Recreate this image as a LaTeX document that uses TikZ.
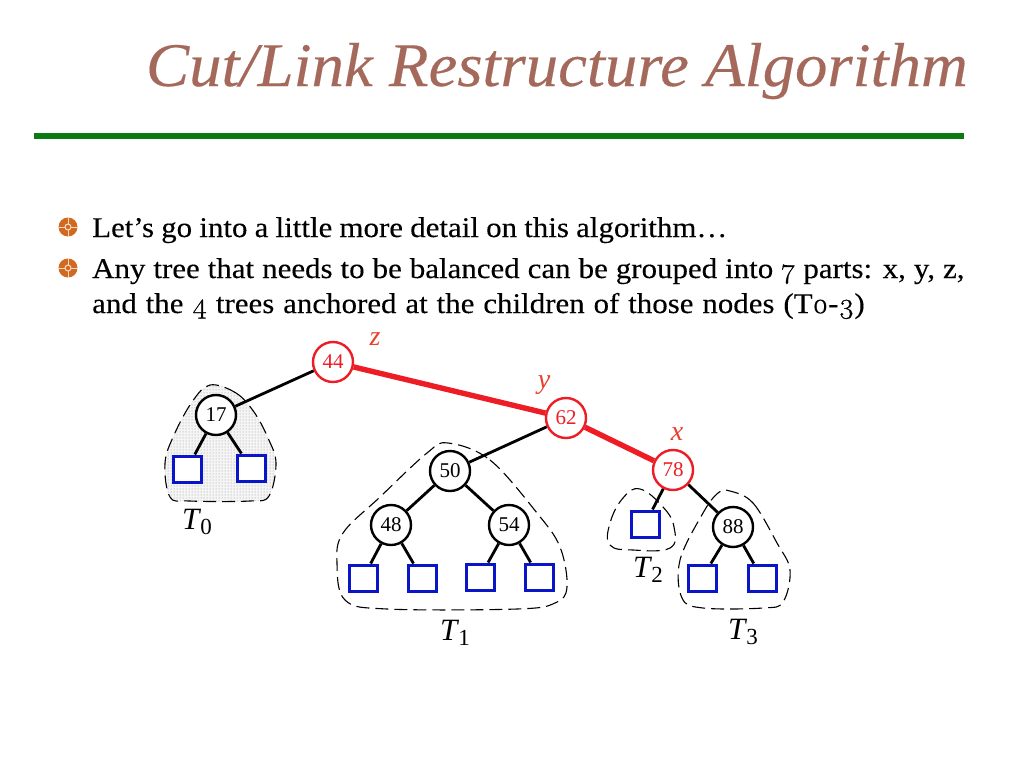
\documentclass[tikz,border=0pt]{standalone}
\usepackage{fontspec}
\usetikzlibrary{patterns}
\setmainfont{Liberation Serif}
\newfontfamily\bodyf{Liberation Serif}[FakeStretch=1.085,FakeBold=0.25]
\newfontfamily\titlef{Liberation Serif}[FakeStretch=1.045,FakeBold=0.25]
\newfontfamily\osf{Latin Modern Roman}[Numbers=OldStyle,FakeStretch=1.05,FakeBold=0.7]
\definecolor{titlec}{HTML}{A5695C}
\definecolor{rulec}{HTML}{0B7A12}
\definecolor{redn}{HTML}{EE1C25}
\definecolor{labc}{HTML}{E8402A}
\definecolor{bluen}{HTML}{0A14C8}
\definecolor{bulc}{HTML}{D2691E}
\tikzset{
  x=1pt,y=-1pt,
  bt/.style={circle,draw=black,line width=2.4pt,fill=white,minimum size=40pt,inner sep=0pt,font=\fontsize{21}{21}\selectfont},
  rt/.style={bt,draw=redn,text=redn},
  leaf/.style={rectangle,draw=bluen,line width=3pt,fill=white,minimum width=28pt,minimum height=26pt,inner sep=0pt},
  edgeb/.style={draw=black,line width=2.8pt},
  edger/.style={draw=redn,line width=5.4pt},
  blob/.style={draw=black,dash pattern=on 13pt off 6pt,line width=1.1pt},
  tl/.style={font=\fontsize{31}{31}\selectfont\itshape,inner sep=0pt},
  xl/.style={font=\fontsize{28}{28}\selectfont\itshape,text=labc,inner sep=0pt},
  bodyt/.style={anchor=base west,inner sep=0pt,font=\fontsize{28.5}{28.5}\selectfont\bodyf},
}
\newcommand{\onum}[1]{{\osf #1}}
\newcommand{\subd}[1]{\hspace{1pt}\raisebox{-5pt}{\fontsize{23}{23}\selectfont\upshape #1}}
\begin{document}
\begin{tikzpicture}
\useasboundingbox (0,0) rectangle (1024,768);
\fill[white] (0,0) rectangle (1024,768);
\node[anchor=base east,inner sep=0pt,text=titlec,font=\fontsize{62}{62}\selectfont\titlef\itshape] (title) at (968,86) {Cut/Link Restructure Algorithm};
\coordinate (ruleL) at (34,136);
\coordinate (ruleR) at (964,136);
\draw[rulec,line width=6pt] (ruleL) -- (ruleR);
% bullets
\foreach \y in {227,268}{
  \fill[bulc] (68,\y) circle (9.5);
  \draw[white!75!bulc,line width=0.9pt] (58.5,\y) -- (65,\y) (71,\y) -- (77.5,\y) (68,\y-9.5) -- (68,\y-3) (68,\y+3) -- (68,\y+9.5);
  \draw[white!80!bulc,line width=1pt] (68,\y) circle (3);
}
\node[bodyt] (l1) at (92,237) {\spaceskip=7.2pt Let’s go into a little more detail on this algorithm…};
\node[bodyt] (l2) at (92,278) {\spaceskip=8pt Any tree that needs to be balanced can be grouped into \onum{7} parts: x, y, z,};
\node[bodyt] (l3) at (92,313) {\spaceskip=8.9pt and the \onum{4} trees anchored at the children of those nodes (T\onum{0}-\onum{3})};
% blobs
\path[blob,preaction={fill=gray!8},pattern=dots,pattern color=gray!85] plot[smooth cycle,tension=0.6] coordinates {(210,385) (236,393) (254,412) (268,438) (276,463) (269,496) (250,501) (190,501) (170,497) (165,463) (174,435) (192,402)};
\draw[blob] plot[smooth cycle,tension=0.6] coordinates {(448,443) (490,460) (537,513) (560,547) (567,587) (555,603) (517,609) (387,609) (345,600) (337,563) (343,533) (380,497) (427,453)};
\draw[blob] plot[smooth cycle,tension=0.7] coordinates {(640,489) (663,507) (674,527) (670,548) (633,550) (610,545) (610,523) (623,498)};
\draw[blob] plot[smooth cycle,tension=0.6] coordinates {(730,491) (753,503) (777,543) (790,570) (783,602) (763,608) (703,608) (682,598) (680,560) (703,513) (718,493)};
% nodes
\node[rt] (n44) at (333,362) {44};
\node[bt] (n17) at (216,415) {17};
\node[rt] (n62) at (566,418) {62};
\node[rt] (n78) at (673,470) {78};
\node[bt] (n50) at (450,471) {50};
\node[bt] (n48) at (391,525) {48};
\node[bt] (n54) at (509,525) {54};
\node[bt] (n88) at (733,527) {88};
\node[leaf] (a1) at (187,469) {};
\node[leaf] (a2) at (251,468) {};
\node[leaf] (b1) at (363,578) {};
\node[leaf] (b2) at (422,578) {};
\node[leaf] (b3) at (480,577) {};
\node[leaf] (b4) at (539,577) {};
\node[leaf] (c1) at (645,524) {};
\node[leaf] (d1) at (702,578) {};
\node[leaf] (d2) at (762,578) {};
% edges
\draw[edger] (n44) -- (n62);
\draw[edger] (n62) -- (n78);
\draw[edgeb] (n44) -- (n17);
\draw[edgeb] (n62) -- (n50);
\draw[edgeb] (n78) -- (n88);
\draw[edgeb] (n78) -- (c1);
\draw[edgeb] (n17) -- (a1);
\draw[edgeb] (n17) -- (a2);
\draw[edgeb] (n50) -- (n48);
\draw[edgeb] (n50) -- (n54);
\draw[edgeb] (n48) -- (b1);
\draw[edgeb] (n48) -- (b2);
\draw[edgeb] (n54) -- (b3);
\draw[edgeb] (n54) -- (b4);
\draw[edgeb] (n88) -- (d1);
\draw[edgeb] (n88) -- (d2);
% labels
\node[xl] (lz) at (375,339) {z};
\node[xl] (ly) at (544,385) {y};
\node[xl] (lx) at (677,434) {x};
\node[tl] (t0) at (197,522) {T\subd{0}};
\node[tl] (t1) at (455,633) {T\subd{1}};
\node[tl] (t2) at (648,570) {T\subd{2}};
\node[tl] (t3) at (743,632) {T\subd{3}};
\end{tikzpicture}
\end{document}
